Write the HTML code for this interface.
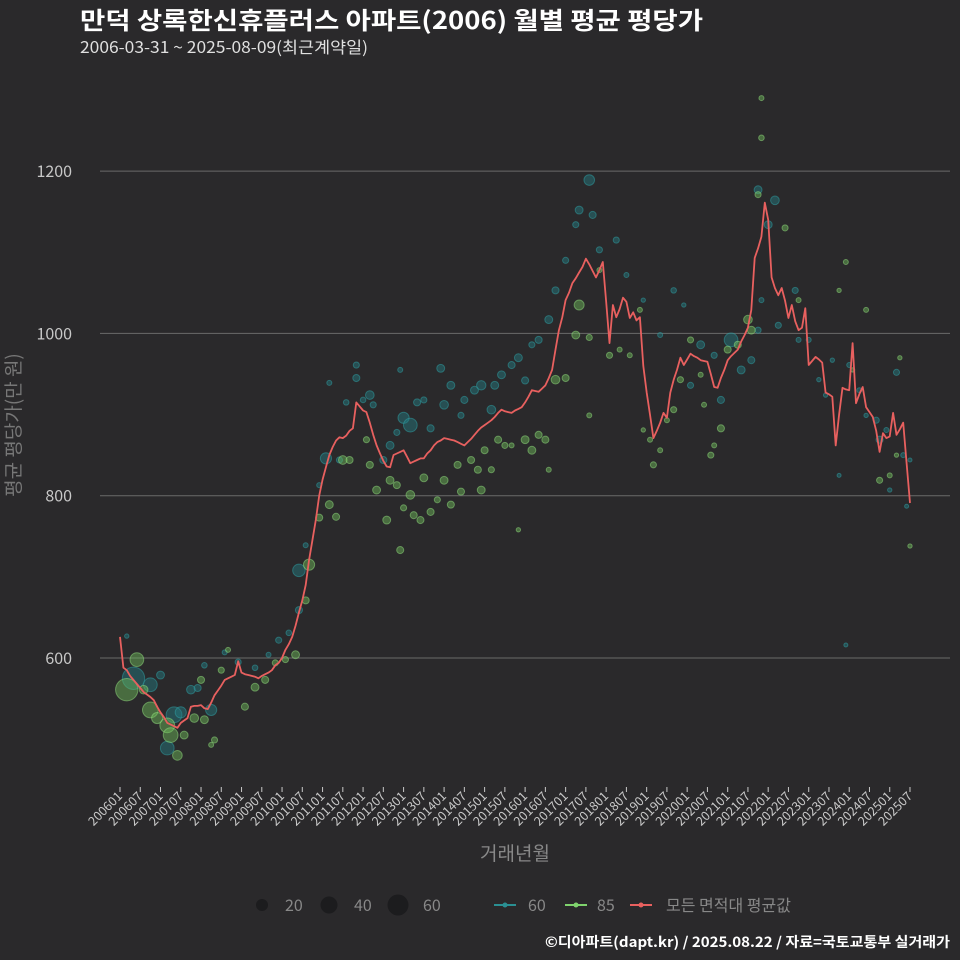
<!DOCTYPE html>
<html><head><meta charset="utf-8"><style>
html,body{margin:0;padding:0;background:#2a292b;}
svg{display:block;font-family:"Noto Sans CJK KR","Liberation Sans",sans-serif;}
</style></head><body>
<svg id="chart" width="960" height="960" viewBox="0 0 960 960">
<rect width="960" height="960" fill="#2a292b"/>
<text x="80" y="29" fill="#ffffff" font-size="24" font-weight="bold" textLength="623" lengthAdjust="spacingAndGlyphs">만덕 상록한신휴플러스 아파트(2006) 월별 평균 평당가</text>
<text x="80" y="53" fill="#e0e0e0" font-size="16" textLength="288" lengthAdjust="spacingAndGlyphs">2006-03-31 ~ 2025-08-09(최근계약일)</text>
<g id="grid"></g>
<g id="yaxis"></g>
<g id="xaxis"></g>
<g id="pts"></g>
<g id="line"></g>
<text transform="translate(20,425) rotate(-90)" text-anchor="middle" fill="#777" font-size="19">평균 평당가(만 원)</text>
<text x="515" y="860" text-anchor="middle" fill="#888" font-size="19">거래년월</text>
<g font-size="16" fill="#888">
 <circle cx="262" cy="905" r="6" fill="#1c1c1e"/><text x="285" y="911">20</text>
 <circle cx="329" cy="905" r="8.5" fill="#1c1c1e"/><text x="354" y="911">40</text>
 <circle cx="398" cy="905" r="10.5" fill="#1c1c1e"/><text x="423" y="911">60</text>
 <line x1="494" y1="905" x2="516" y2="905" stroke="#2a8f92" stroke-width="2"/><circle cx="505" cy="905" r="2.5" fill="#2a8f92"/><text x="528" y="911">60</text>
 <line x1="565" y1="905" x2="587" y2="905" stroke="#7fd36d" stroke-width="2"/><circle cx="576" cy="905" r="2.5" fill="#7fd36d"/><text x="597" y="911">85</text>
 <line x1="630" y1="905" x2="652" y2="905" stroke="#e8605f" stroke-width="2"/><circle cx="641" cy="905" r="2.5" fill="#e8605f"/><text x="666" y="911">모든 면적대 평균값</text>
</g>
<text x="950" y="947" text-anchor="end" fill="#ffffff" font-size="14" font-weight="bold" textLength="405" lengthAdjust="spacingAndGlyphs">©디아파트(dapt.kr) / 2025.08.22 / 자료=국토교통부 실거래가</text>
</svg>
<script>
const yTicks=[600,800,1000,1200];
const xTickLabels=[];
for(let y=2006;y<=2025;y++){xTickLabels.push(y+"01");xTickLabels.push(y+"07");}
const avgValues=[626,588,585,578,573,568,563,558,555,552,548,540,
533,527,520,518,516,514,520,523,526,540,541,541,
542,538,537,545,554,560,566,573,575,577,579,596,
582,580,579,578,577,575,578,580,582,585,591,594,
600,610,617,626,640,656,671,690,721,745,770,800,
820,835,850,860,868,872,871,874,880,883,915,910,
905,903,890,875,862,852,843,836,835,850,852,854,
856,848,840,842,844,846,846,852,856,862,866,868,
871,870,869,868,866,864,862,866,870,875,880,884,
887,890,893,897,902,906,904,903,902,905,907,909,
915,922,930,929,928,932,936,945,955,980,1004,1020,
1041,1050,1062,1068,1075,1082,1092,1085,1077,1069,1078,1088,
1040,988,1035,1020,1030,1044,1039,1019,1026,1016,1020,960,
927,900,871,880,890,902,896,927,943,955,970,961,
968,975,972,970,967,966,965,950,934,933,945,955,
967,972,976,980,990,998,1007,1029,1093,1105,1119,1161,
1140,1069,1056,1047,1056,1040,1019,1035,1015,1004,1007,1031,
961,966,971,968,964,927,925,922,862,900,933,931,
930,988,914,925,934,909,903,897,880,854,877,871,
873,902,875,882,890,840,791];
const s60Month=[2,4,9,12,14,16,18,21,23,25,27,31,35,40,44,47,50,53,53,55,59,61,62,65,67,70,70,72,74,75,78,80,82,83,84,86,88,90,92,95,96,98,101,102,105,107,110,111,113,116,118,120,122,124,127,129,132,135,136,139,140,142,147,150,155,160,164,167,169,172,176,178,181,184,187,189,190,189,192,194,195,200,201,204,207,209,211,213,215,216,219,221,224,225,227,228,230,232,233,234];
const s60Value=[627,575,567,579,489,530,533,561,563,591,536,607,595,588,604,622,631,659,708,739,813,846,939,844,915,945,961,918,924,912,844,862,878,955,896,887,915,918,883,957,912,936,899,918,930,936,906,936,949,961,970,942,986,992,1017,1053,1090,1134,1152,1189,1146,1103,1115,1072,1041,998,1053,1035,936,986,973,918,992,955,967,1004,1041,1177,1134,1164,1010,1053,992,992,943,924,967,825,616,961,930,899,893,869,881,807,952,850,787,844];
const s60Count=[3,80,30,10,30,40,20,12,8,5,20,4,6,5,4,6,5,8,25,4,4,20,4,6,5,8,6,5,12,6,8,10,6,4,20,30,8,6,8,10,12,10,6,8,10,14,12,10,10,8,10,8,6,8,10,8,6,6,10,18,8,6,6,4,3,4,5,3,6,10,6,8,30,10,8,6,4,10,10,12,6,6,4,4,3,3,3,2,2,4,4,3,6,8,4,3,6,4,2,2];
const s85Month=[2,5,7,9,11,14,15,17,19,22,25,27,28,24,30,32,37,40,43,46,49,52,55,56,59,62,64,66,68,73,74,76,79,80,82,83,84,86,87,89,90,92,94,96,98,100,101,104,106,107,108,110,112,114,116,118,120,122,124,126,127,129,132,135,136,139,139,142,145,148,151,154,155,157,158,160,162,164,166,169,172,173,175,176,178,180,183,186,187,189,190,190,197,201,213,215,221,225,228,230,231,234,217];
const s85Value=[561,598,561,536,526,517,505,480,505,526,524,493,499,573,585,610,540,564,573,594,598,604,671,715,773,789,774,844,844,869,838,807,770,819,813,733,785,801,776,770,822,780,795,819,789,838,805,844,832,807,856,832,869,862,862,758,869,856,875,869,832,943,945,998,1035,995,899,1078,973,980,973,1029,881,869,838,856,893,906,943,992,949,912,850,862,883,980,986,1017,1004,1171,1241,1290,1130,1041,1053,1088,1029,819,825,850,970,738,955];
const s85Count=[80,30,12,40,20,35,35,15,10,12,10,4,6,8,6,4,8,10,8,6,6,10,8,20,8,10,8,12,8,6,8,10,10,10,8,8,6,12,8,8,10,8,6,10,8,8,8,8,8,10,8,6,8,6,4,3,10,10,8,8,4,12,8,10,16,6,4,4,6,4,4,4,3,4,6,4,4,6,6,6,4,4,6,4,8,8,8,12,10,6,5,4,6,4,3,4,4,6,4,3,3,3,3];

const SVGNS="http://www.w3.org/2000/svg";
const X=m=>120+m*3.376;
const Y=v=>658-(v-600)*0.8115;
const R=n=>1.25*Math.sqrt(n);
function mk(tag,attrs,parent){const e=document.createElementNS(SVGNS,tag);for(const k in attrs)e.setAttribute(k,attrs[k]);parent.appendChild(e);return e;}
const grid=document.getElementById('grid'),ya=document.getElementById('yaxis'),xa=document.getElementById('xaxis'),pts=document.getElementById('pts'),ln=document.getElementById('line');
yTicks.forEach(t=>{
  const g=mk('line',{x1:100,x2:950,y1:Y(t),y2:Y(t),stroke:'#6a6a6a','stroke-width':1},grid);
  
  
  const tx=mk('text',{x:72,y:Y(t)+6,'text-anchor':'end',fill:'#c8c8c8','font-size':16},ya);
  tx.textContent=t;
  
  
});
xTickLabels.forEach((lab,i)=>{
  if(i>=40) return;
  const x=X(i*6);
  const tk=mk('line',{x1:x,x2:x,y1:787,y2:792,stroke:'#c8c8c8','stroke-width':1},xa);
  
  
  const tx=mk('text',{transform:`translate(${x+3},797) rotate(-45)`,'text-anchor':'end',fill:'#c8c8c8','font-size':12.5},xa);
  tx.textContent=lab;
  
  
});
function drawSeries(ms,vs,ns,fill,stroke,name){
  ms.forEach((m,i)=>{
    const c=mk('circle',{cx:X(m),cy:Y(vs[i]),r:Math.max(2,R(ns[i])),fill:fill,'fill-opacity':0.45,stroke:stroke,'stroke-opacity':0.5,'stroke-width':1},pts);
    
    
  });
}
drawSeries(s60Month,s60Value,s60Count,'#237f84','#2fa3a8','size-60');
drawSeries(s85Month,s85Value,s85Count,'#6fbf5c','#94e07f','size-85');
const d=avgValues.map((v,i)=>(i?'L':'M')+X(i).toFixed(1)+','+Y(v).toFixed(1)).join(' ');
const p=mk('path',{d:d,fill:'none',stroke:'#e8605f','stroke-width':1.8,'stroke-linejoin':'round'},ln);


</script>
</body></html>
